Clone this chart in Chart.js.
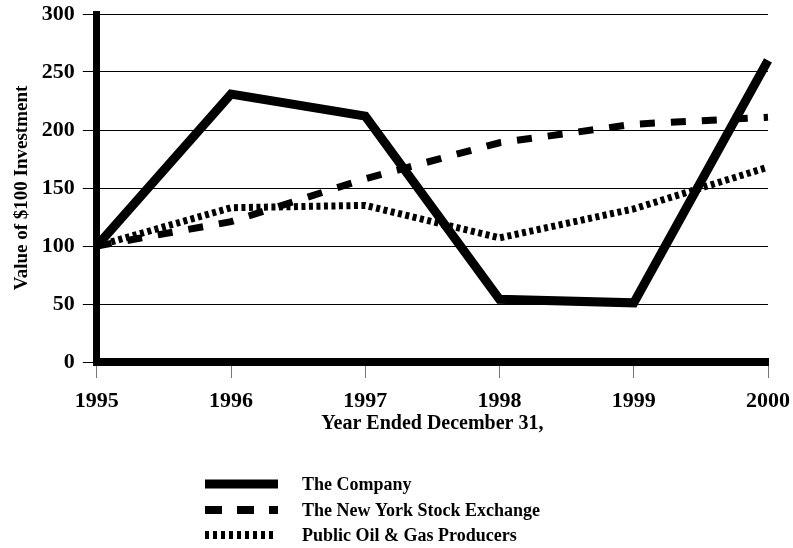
<!DOCTYPE html>
<html>
<head>
<meta charset="utf-8">
<script src="https://cdn.jsdelivr.net/npm/chart.js@4/dist/chart.umd.min.js"></script>
<style>
  html, body { margin: 0; padding: 0; background: #fff; }
  #wrap { width: 793px; height: 548px; position: relative; }
</style>
</head>
<body>
<div id="wrap"><canvas id="chart"></canvas></div>
<script>
// data
const years = ['1995', '1996', '1997', '1998', '1999', '2000']
const company = [100, 231, 212, 54, 51, 260]
const nyse = [100, 121, 158, 189, 205, 211]
const oilGas = [100, 133, 135, 107, 132, 168]
const seriesNames = ['The Company', 'The New York Stock Exchange', 'Public Oil & Gas Producers']

const serif = '"Liberation Serif", "Times New Roman", serif'

// line style for each series
const dataset = (label, data, width, dash) => ({
    label: label,
    data: data,
    borderColor: '#000',
    backgroundColor: '#000',
    borderWidth: width,
    borderDash: dash,
    borderCapStyle: 'butt',
    fill: false,
    tension: 0,
    pointRadius: 0,
    pointHoverRadius: 0
})

// legend drawn under the axis title, one row per series
const bottomLegend = {
    id: 'bottomLegend',
    afterDraw(chart) {
        const ctx = chart.ctx
        const rows = [484, 510, 535]
        const dashes = [[], [17, 15], [4, 4]]
        ctx.save()
        chart.data.datasets.forEach((ds, i) => {
            const y = rows[i]
            ctx.beginPath()
            ctx.strokeStyle = '#000'
            ctx.lineWidth = i === 0 ? 9 : 8
            ctx.setLineDash(dashes[i])
            ctx.moveTo(205, y)
            ctx.lineTo(i === 2 ? 276 : 278, y)
            ctx.stroke()
            ctx.setLineDash([])
            ctx.fillStyle = '#000'
            ctx.font = 'bold 18px ' + serif
            ctx.textBaseline = 'middle'
            ctx.fillText(ds.label, 302, y + 1)
        })
        ctx.restore()
    }
}

new Chart(document.getElementById('chart'), {
    type: 'line',
    data: {
        labels: years,
        datasets: [
            dataset(seriesNames[0], company, 9, []),
            dataset(seriesNames[1], nyse, 7, [15, 16]),
            dataset(seriesNames[2], oilGas, 7, [4, 3.5])
        ]
    },
    options: {
        responsive: true,
        maintainAspectRatio: false,
        animation: false,
        layout: { padding: { left: 11, right: 25, top: 14, bottom: 112 } },
        plugins: {
            legend: { display: false },
            tooltip: { enabled: false }
        },
        scales: {
            x: {
                offset: false,
                border: { display: true, color: '#000', width: 8 },
                grid: { drawOnChartArea: false, drawTicks: true, tickLength: 16, color: '#777', lineWidth: 1 },
                ticks: { color: '#000', font: { family: serif, size: 22, weight: 'bold', lineHeight: 1 }, padding: 12, maxRotation: 0 },
                title: {
                    display: true,
                    text: 'Year Ended December 31,',
                    color: '#000',
                    font: { family: serif, size: 20, weight: 'bold' },
                    padding: { top: 0, bottom: 0 }
                },
                afterFit(scale) {
                    scale.paddingLeft = 0
                    scale.paddingRight = 0
                    scale.height = 74
                }
            },
            y: {
                min: 0,
                max: 300,
                border: { display: true, color: '#000', width: 7 },
                grid: { color: '#000', lineWidth: 1, tickLength: 14 },
                ticks: { stepSize: 50, color: '#000', font: { family: serif, size: 22, weight: 'bold' }, padding: 8 },
                title: {
                    display: true,
                    text: 'Value of $100 Investment',
                    color: '#000',
                    font: { family: serif, size: 19, weight: 'bold' },
                    padding: { top: 0, bottom: 0 }
                },
                afterFit(scale) {
                    scale.paddingTop = 0
                    scale.paddingBottom = 0
                }
            }
        }
    },
    plugins: [bottomLegend]
})
</script>
</body>
</html>
